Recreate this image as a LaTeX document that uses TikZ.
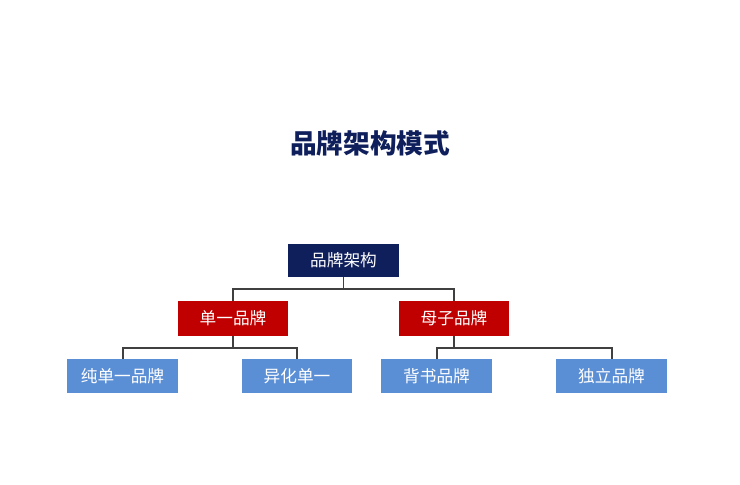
\documentclass[tikz,border=0pt]{standalone}
\usepackage{fontspec}
\setmainfont{Noto Sans CJK SC}
\newfontfamily\cjkbold{Noto Sans CJK SC}[BoldFont={* Bold}]
\definecolor{navy}{HTML}{0F1F5C}
\definecolor{bred}{HTML}{C00000}
\definecolor{bblue}{HTML}{5B8FD5}
\definecolor{ln}{HTML}{404040}
\begin{document}
\begin{tikzpicture}[x=0.75pt,y=-0.75pt,
  box/.style={draw=none,text=white,font=\fontsize{12.5pt}{14pt}\selectfont,inner sep=0pt},
  conn/.style={draw=ln,line width=0.8pt}]
\useasboundingbox (0,0) rectangle (740,485);
\fill[white] (0,0) rectangle (740,485);
\node[text=navy,font=\fontsize{20pt}{24pt}\selectfont\bfseries] (title) at (370,143) {品牌架构模式};
\newcommand{\bx}[6]{\fill[#6] (#2,#3) rectangle (#4,#5); \node[box] (#1) at ({(#2+#4)/2},{(#3+#5)/2}) {#6text};}
\fill[navy] (288,244) rectangle (399,277); \coordinate (rt) at (343.5,277);
\node[box] (root) at (343.5,260.5) {品牌架构};
\fill[bred] (178,301) rectangle (288,336); \node[box] (r1) at (233,318.5) {单一品牌};
\fill[bred] (399,301) rectangle (509,336); \node[box] (r2) at (454,318.5) {母子品牌};
\fill[bblue] (67,359) rectangle (178,393); \node[box] (b1) at (122.5,376) {纯单一品牌};
\fill[bblue] (242,359) rectangle (352,393); \node[box] (b2) at (297,376) {异化单一};
\fill[bblue] (381,359) rectangle (492,393); \node[box] (b3) at (436.5,376) {背书品牌};
\fill[bblue] (556,359) rectangle (667,393); \node[box] (b4) at (611.5,376) {独立品牌};
\coordinate (j0) at (343.5,289);
\draw[conn] (343.5,277) -- (j0);
\draw[conn] (233,301) |- (j0) -| (454,301);
\coordinate (j1) at (233,348); \coordinate (j2) at (454,348);
\draw[conn] (233,336) -- (j1);
\draw[conn] (123,359) |- (j1) -| (297,359);
\draw[conn] (454,336) -- (j2);
\draw[conn] (437,359) |- (j2) -| (612,359);
\end{tikzpicture}
\end{document}
